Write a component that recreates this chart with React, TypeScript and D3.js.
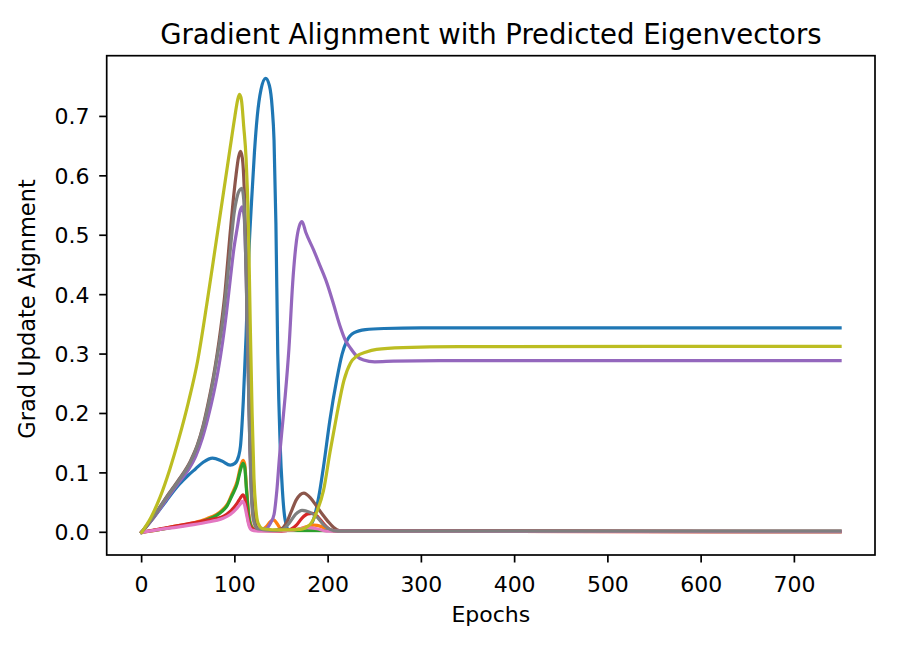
import React from 'react';
import * as d3 from 'd3';

// values: [epoch, alignment]
const blueLine: [number, number][] = [
  [0, 0], [13, 0.025], [26, 0.052], [40, 0.08], [50, 0.096], [58, 0.107], [66, 0.118], [76, 0.125],
  [86, 0.12], [95, 0.113], [100, 0.116], [104, 0.128], [106, 0.145], [109, 0.22], [112, 0.33],
  [115, 0.47], [118, 0.56], [121, 0.64], [124, 0.7], [128, 0.745], [133, 0.764], [137, 0.752],
  [140, 0.715], [142, 0.66], [144, 0.52], [146, 0.3], [148.5, 0.15], [151, 0.07], [154, 0.02],
  [158, 0.004], [170, 0.003], [180, 0.01], [185, 0.025], [190, 0.06], [195, 0.11], [202, 0.19],
  [209, 0.255], [215, 0.3], [220, 0.322], [228, 0.336], [240, 0.341], [260, 0.343], [300, 0.344],
  [749, 0.344],
];

const orangeLine: [number, number][] = [
  [0, 0], [20, 0.005], [35, 0.01], [50, 0.014], [63, 0.019], [70, 0.023], [80, 0.03], [86, 0.037],
  [91.8, 0.047], [97, 0.065], [102.5, 0.086], [106, 0.11], [108.7, 0.121], [110.5, 0.115],
  [112.5, 0.075], [115, 0.03], [118, 0.01], [122, 0.004], [128, 0.004], [134, 0.01], [138, 0.018],
  [141.7, 0.021], [145, 0.015], [150, 0.005], [160, 0.004], [170, 0.006], [178, 0.01], [185, 0.012],
  [192, 0.01], [200, 0.004], [210, 0.002], [749, 0.001],
];

const greenLine: [number, number][] = [
  [0, 0], [20, 0.005], [35, 0.009], [50, 0.013], [63, 0.017], [70, 0.021], [80, 0.028], [86, 0.035],
  [91.8, 0.045], [97, 0.062], [102.5, 0.082], [106, 0.105], [108.7, 0.116], [110.5, 0.11],
  [112.5, 0.07], [115, 0.025], [118, 0.008], [122, 0.003], [749, 0.001],
];

const redLine: [number, number][] = [
  [0, 0], [20, 0.006], [35, 0.01], [52.5, 0.015], [70, 0.02], [80, 0.023], [88, 0.027], [95, 0.035],
  [102.5, 0.049], [106, 0.058], [108.5, 0.063], [110.5, 0.058], [112.5, 0.038], [115, 0.015],
  [118.5, 0.006], [125, 0.003], [150, 0.002], [160, 0.005], [166, 0.012], [172, 0.024], [178, 0.031],
  [183, 0.032], [189, 0.026], [196, 0.013], [203, 0.004], [210, 0.002], [749, 0.001],
];

const purpleLine: [number, number][] = [
  [0, 0], [13, 0.025], [26, 0.054], [40, 0.084], [50, 0.105], [58, 0.128], [65, 0.158], [71, 0.192],
  [77, 0.232], [82, 0.272], [87, 0.322], [91, 0.37], [95, 0.425], [99, 0.478], [102.5, 0.512],
  [105.5, 0.54], [107.8, 0.548], [110, 0.53], [112, 0.44], [114, 0.3], [116, 0.15], [118, 0.06],
  [121, 0.02], [125, 0.006], [133, 0.006], [138, 0.015], [142, 0.03], [145, 0.07], [148, 0.13],
  [151, 0.18], [154, 0.23], [158, 0.31], [162, 0.42], [166, 0.49], [169, 0.515], [172, 0.523],
  [176, 0.505], [184.5, 0.475], [191.5, 0.448], [198.8, 0.419], [206, 0.383], [213, 0.346],
  [218, 0.325], [224, 0.31], [231, 0.296], [238, 0.29], [250, 0.287], [270, 0.288], [320, 0.289],
  [749, 0.289],
];

const brownLine: [number, number][] = [
  [0, 0], [13, 0.027], [26, 0.058], [40, 0.089], [52, 0.119], [60, 0.148], [66, 0.18], [72, 0.222],
  [77, 0.262], [81, 0.3], [85, 0.345], [89, 0.397], [92, 0.45], [95, 0.505], [98, 0.555],
  [101, 0.598], [104, 0.632], [106, 0.641], [108, 0.63], [110, 0.58], [112, 0.47],
  [114, 0.32], [116, 0.17], [118, 0.07], [121, 0.02], [125, 0.005], [140, 0.003], [150, 0.006],
  [155, 0.015], [160, 0.033], [166, 0.055], [174, 0.066], [181, 0.058], [188, 0.043], [194, 0.03],
  [200, 0.018], [206, 0.008], [212, 0.003], [749, 0.002],
];

const pinkLine: [number, number][] = [
  [0, 0], [20, 0.005], [35, 0.008], [52, 0.012], [70, 0.017], [80, 0.02], [88, 0.024], [95, 0.03],
  [102, 0.04], [106, 0.048], [108, 0.052], [110, 0.048], [112.5, 0.03], [115, 0.012], [118, 0.004],
  [125, 0.002], [160, 0.003], [170, 0.006], [178, 0.008], [188, 0.006], [198, 0.002], [749, 0.001],
];

const grayLine: [number, number][] = [
  [0, 0], [13, 0.027], [26, 0.057], [40, 0.088], [52, 0.117], [60, 0.147], [66, 0.178], [72, 0.218],
  [77, 0.258], [81, 0.295], [86, 0.345], [90, 0.397], [93.5, 0.45], [96, 0.49],
  [99, 0.535], [102, 0.562], [105, 0.576], [107.5, 0.579], [109.5, 0.56], [111.5, 0.47],
  [113.5, 0.33], [115.5, 0.18], [117.5, 0.07], [120, 0.02], [124, 0.006], [140, 0.003],
  [150, 0.004], [158, 0.015], [165, 0.03], [172, 0.037], [180, 0.034], [188, 0.026], [195, 0.013],
  [202, 0.005], [210, 0.002], [749, 0.002],
];

const oliveLine: [number, number][] = [
  [0, 0], [10, 0.025], [20, 0.06], [30, 0.105], [40, 0.158], [50, 0.218], [60, 0.288], [70, 0.385],
  [80, 0.49], [90, 0.595], [95, 0.648], [100, 0.7], [103, 0.728], [105, 0.737], [107, 0.728],
  [109.5, 0.683], [112, 0.63],
  [114.5, 0.52], [116.5, 0.35], [118.5, 0.2], [120.5, 0.09], [122.5, 0.04], [125, 0.015],
  [130, 0.006], [150, 0.004], [170, 0.005], [180, 0.012], [188, 0.035], [195, 0.07], [202, 0.135],
  [209, 0.195], [217, 0.256], [224, 0.285], [231, 0.297], [240, 0.303], [252, 0.308], [280, 0.311],
  [340, 0.3125], [749, 0.313],
];

const xTicks = [0, 100, 200, 300, 400, 500, 600, 700];
const yTicks = [0, 0.1, 0.2, 0.3, 0.4, 0.5, 0.6, 0.7];

const lines = [
  { color: '#1f77b4', points: blueLine },
  { color: '#ff7f0e', points: orangeLine },
  { color: '#2ca02c', points: greenLine },
  { color: '#d62728', points: redLine },
  { color: '#9467bd', points: purpleLine },
  { color: '#8c564b', points: brownLine },
  { color: '#e377c2', points: pinkLine },
  { color: '#7f7f7f', points: grayLine },
  { color: '#bcbd22', points: oliveLine },
];

const App = () => {
  const width = 906;
  const height = 646;
  const box = { left: 106.7, right: 875, top: 55.7, bottom: 555 };
  const font = 'DejaVu Sans, sans-serif';

  const xScale = d3.scaleLinear().domain([-37.45, 786.45]).range([box.left, box.right]);
  const yScale = d3.scaleLinear().domain([-0.0382, 0.8022]).range([box.bottom, box.top]);

  const line = d3.line<[number, number]>()
    .x(d => xScale(d[0]))
    .y(d => yScale(d[1]))
    .curve(d3.curveMonotoneX);

  const midX = (box.left + box.right) / 2;

  return (
    <svg width={width} height={height} style={{ position: 'absolute', left: 0, top: 0, background: '#fff' }}>
      <rect x={0} y={0} width={width} height={height} fill="#fff" />
      <defs>
        <clipPath id="plot-clip">
          <rect x={box.left} y={box.top} width={box.right - box.left} height={box.bottom - box.top} />
        </clipPath>
      </defs>

      <g clipPath="url(#plot-clip)">
        {lines.map((s, i) => (
          <path key={i} d={line(s.points) || ''} fill="none" stroke={s.color}
            strokeWidth={3.2} strokeLinejoin="round" strokeLinecap="square" />
        ))}
      </g>

      {/* frame */}
      <rect x={box.left} y={box.top} width={box.right - box.left} height={box.bottom - box.top}
        fill="none" stroke="#000" strokeWidth={1.7} />

      {/* x axis */}
      {xTicks.map(t => (
        <g key={t} transform={`translate(${xScale(t)},0)`}>
          <line y1={box.bottom} y2={box.bottom + 7.5} stroke="#000" strokeWidth={1.7} />
          <text y={591.5} textAnchor="middle" fontFamily={font} fontSize={22} fill="#000">{t}</text>
        </g>
      ))}

      {/* y axis */}
      {yTicks.map(t => (
        <g key={t} transform={`translate(0,${yScale(t)})`}>
          <line x1={box.left} x2={box.left - 7.5} stroke="#000" strokeWidth={1.7} />
          <text x={89.5} y={8} textAnchor="end" fontFamily={font} fontSize={22} fill="#000">{t.toFixed(1)}</text>
        </g>
      ))}

      <text x={midX} y={43.5} textAnchor="middle" fontFamily={font} fontSize={27.5} fill="#000">
        Gradient Alignment with Predicted Eigenvectors
      </text>
      <text x={midX} y={621.5} textAnchor="middle" fontFamily={font} fontSize={22} fill="#000">Epochs</text>
      <text transform="translate(34.5,309) rotate(-90)" textAnchor="middle" fontFamily={font}
        fontSize={22.5} fill="#000">Grad Update Aignment</text>
    </svg>
  );
};

export default App;
